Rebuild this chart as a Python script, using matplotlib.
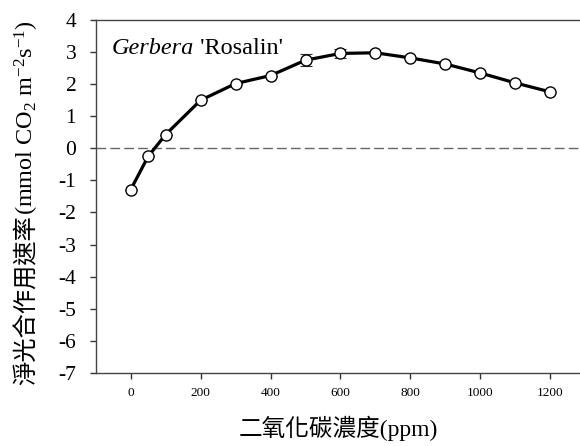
import matplotlib
matplotlib.use('Agg')
import matplotlib.pyplot as plt

plt.rcParams['font.family'] = ['Liberation Serif', 'Noto Sans CJK TC']
plt.rcParams['mathtext.fontset'] = 'custom'
plt.rcParams['mathtext.rm'] = 'Liberation Serif'
plt.rcParams['mathtext.it'] = 'Liberation Serif:italic'

co2 = [0, 50, 100, 200, 300, 400, 500, 600, 700, 800, 900, 1000, 1100, 1200]
rate = [-1.29, -0.25, 0.43, 1.50, 2.02, 2.27, 2.75, 2.96, 2.98, 2.82, 2.63, 2.35, 2.04, 1.76]
err = [0, 0, 0, 0, 0, 0, 0.19, 0.15, 0, 0, 0, 0, 0, 0]

xticks = [0, 200, 400, 600, 800, 1000, 1200]
yticks = [4, 3, 2, 1, 0, -1, -2, -3, -4, -5, -6, -7]

fig = plt.figure(figsize=(5.8, 4.46), dpi=100)
ax = fig.add_axes([0.165, 0.164, 0.835, 0.791])

ax.axhline(0, color='#666666', lw=1.0, ls=(0, (7, 3)), zorder=1)
ax.errorbar(co2, rate, yerr=err, fmt='none', ecolor='#333333', elinewidth=0.8,
            capsize=4, capthick=0.8, zorder=2)
ax.plot(co2, rate, '-', color='black', lw=2.3, zorder=3)
ax.plot(co2, rate, 'o', mfc='white', mec='black', mew=1.0, ms=8, zorder=4)

ax.set_xlim(-100, 1285)
ax.set_ylim(-7, 4)
ax.set_xticks(xticks)
ax.set_xticklabels([str(v) for v in xticks], fontsize=9.5)
ax.set_yticks(yticks)
ax.set_yticklabels([str(v) for v in yticks], fontsize=15.5)
ax.tick_params(axis='both', direction='out', length=4, width=1, color='#333333')
ax.tick_params(axis='x', pad=6)
ax.tick_params(axis='y', pad=10)

ax.spines['right'].set_visible(False)
for s in ['left', 'top', 'bottom']:
    ax.spines[s].set_color('#444444')
    ax.spines[s].set_linewidth(1.0)

# title inside the axes: italic genus, then cultivar
renderer = fig.canvas.get_renderer()
g = ax.text(0.033, 0.9036, 'Gerbera', style='italic', transform=ax.transAxes,
            fontsize=17.5, va='baseline', ha='left')
gb = g.get_window_extent(renderer).transformed(ax.transAxes.inverted())
ax.text(gb.x1, 0.9036, " 'Rosalin'", transform=ax.transAxes,
        fontsize=17.5, va='baseline', ha='left')

fig.text(0.584, 0.040, '二氧化碳濃度(ppm)', ha='center', va='center', fontsize=17)

# y label in two pieces: CJK then Latin with sub/superscripts
t1 = fig.text(0.047, 1 - 385 / 446, '淨光合作用速率', rotation=90, ha='center',
              va='bottom', fontsize=17.5)
bb = t1.get_window_extent(renderer).transformed(fig.transFigure.inverted())
fig.text(0.047, bb.y1, '(mmol CO$_2$ m$^{-2}$s$^{-1}$)', rotation=90, ha='center',
         va='bottom', fontsize=17.5)

fig.savefig('out.png', dpi=100)
